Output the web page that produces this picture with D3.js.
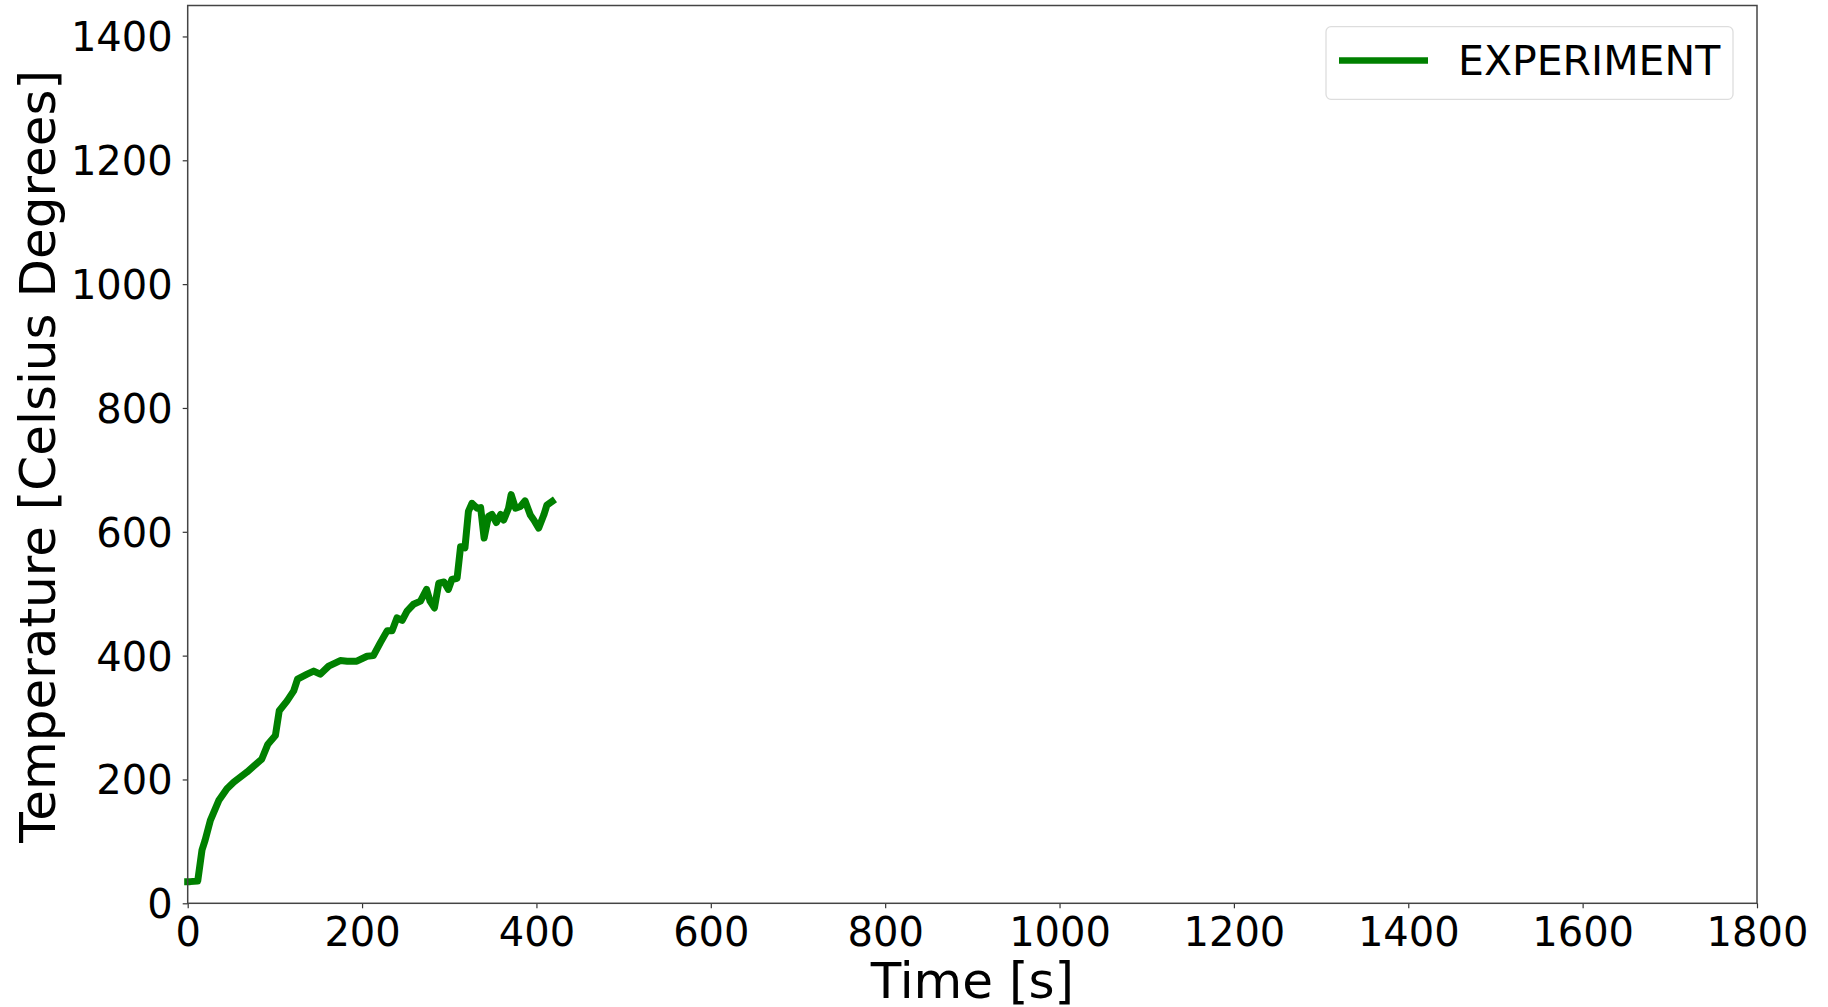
<!DOCTYPE html>
<html>
<head>
<meta http-equiv="content-type" content="text/html; charset=UTF8">
<script src="https://cdn.jsdelivr.net/npm/d3@7/dist/d3.min.js"></script>
<style>
body {
	margin: 0;
	background: #fff;
}
.chart text {
	font-family: "DejaVu Sans", sans-serif;
	fill: #000;
}
</style>
</head>
<body>
<svg class="chart" width="1828" height="1007"></svg>
<script>
// experiment readings, time in s / temperature in C
var times = [0, 3, 11.5, 16.4, 20, 26, 35.6, 45, 53, 68, 85, 92, 100.6, 105, 114, 121.6, 126, 137, 144.5, 152, 161.7,
	175, 183, 194, 205.7, 213, 221, 228.7, 234.4, 240, 246, 251.6, 259, 267, 274, 278, 283, 288, 294, 299, 303, 309,
	313, 318, 322, 326, 332, 336, 340, 345, 349, 354, 359, 362.5, 368, 371, 376, 381.6, 387, 393, 397, 402.6, 408.4, 412, 418];
var temps = [35, 35, 36, 86, 102, 134, 166, 185, 196, 212, 233, 257, 271, 311, 327, 343, 362, 370, 375, 370, 383,
	392, 391, 391, 399, 400, 421, 440, 440, 461, 457, 472, 483, 488, 507, 488, 477, 517, 519, 507, 523, 525,
	576, 574, 633, 646, 638, 639, 590, 625, 628, 615, 628, 619, 638, 660, 638, 641, 650, 627, 619, 606, 627, 643, 649];
var xTicks = [0, 200, 400, 600, 800, 1000, 1200, 1400, 1600, 1800];
var yTicks = [0, 200, 400, 600, 800, 1000, 1200, 1400];
var seriesName = "EXPERIMENT";

var plotLeft = 187.7, plotRight = 1757, plotTop = 5.5, plotBottom = 903.3;

var svg = d3.select(".chart");

var x = d3.scaleLinear().domain([0, 1800]).range([plotLeft, plotRight]);
var y = d3.scaleLinear().domain([0, 1450]).range([plotBottom, plotTop]);

var points = times.map(function(t, i) { return [t, temps[i]]; });

var line = d3.line()
	.x(function(d) { return x(d[0]); })
	.y(function(d) { return y(d[1]); })
	.curve(d3.curveLinear);

svg.append("path")
	.datum(points)
	.attr("d", line)
	.attr("fill", "none")
	.attr("stroke", "#008000")
	.attr("stroke-width", 7)
	.attr("stroke-linejoin", "round")
	.attr("stroke-linecap", "square");

var xAxis = svg.append("g")
	.attr("transform", "translate(0," + plotBottom + ")")
	.call(d3.axisBottom(x).tickValues(xTicks).tickFormat(d3.format("d")).tickSize(5).tickPadding(6).tickSizeOuter(0));

var yAxis = svg.append("g")
	.attr("transform", "translate(" + plotLeft + ",0)")
	.call(d3.axisLeft(y).tickValues(yTicks).tickFormat(d3.format("d")).tickSize(5).tickPadding(10).tickSizeOuter(0));

[xAxis, yAxis].forEach(function(ax) {
	ax.selectAll("text").attr("font-size", 40).attr("font-family", "DejaVu Sans").attr("fill", "#000");
	ax.selectAll("line").attr("stroke", "#333").attr("stroke-width", 1.2);
	ax.select(".domain").remove();
});
xAxis.selectAll("text").attr("dy", "0.8em");
yAxis.selectAll("text").attr("dy", "0.36em");

// frame
svg.append("rect")
	.attr("x", plotLeft)
	.attr("y", plotTop)
	.attr("width", plotRight - plotLeft)
	.attr("height", plotBottom - plotTop)
	.attr("fill", "none")
	.attr("stroke", "#444")
	.attr("stroke-width", 1.5);

svg.append("text")
	.attr("x", (plotLeft + plotRight) / 2)
	.attr("y", 998)
	.attr("text-anchor", "middle")
	.attr("font-size", 50)
	.text("Time [s]");

svg.append("text")
	.attr("transform", "translate(55," + ((plotTop + plotBottom) / 2 + 2) + ") rotate(-90)")
	.attr("text-anchor", "middle")
	.attr("font-size", 50)
	.text("Temperature [Celsius Degrees]");

// legend
var legend = svg.append("g");
legend.append("rect")
	.attr("x", 1326)
	.attr("y", 26.7)
	.attr("width", 407)
	.attr("height", 72.6)
	.attr("rx", 5)
	.attr("fill", "#fff")
	.attr("fill-opacity", 0.8)
	.attr("stroke", "#ddd")
	.attr("stroke-width", 1.3);
legend.append("line")
	.attr("x1", 1339)
	.attr("x2", 1428)
	.attr("y1", 60.5)
	.attr("y2", 60.5)
	.attr("stroke", "#008000")
	.attr("stroke-width", 6.5);
legend.append("text")
	.attr("x", 1458)
	.attr("y", 60.5)
	.attr("dy", "0.36em")
	.attr("font-size", 41)
	.text(seriesName);
</script>
</body>
</html>
